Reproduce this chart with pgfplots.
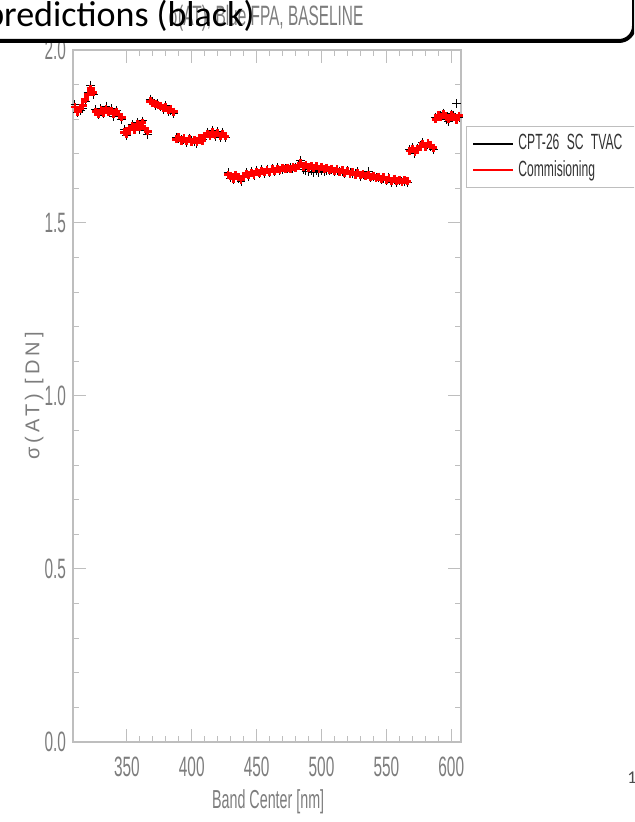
\documentclass[border=0pt]{standalone}
\usepackage{fontspec}
\setmainfont{Liberation Sans}
\newfontfamily\idl[FakeStretch=0.55]{Liberation Sans}
\newfontfamily\idlsp[LetterSpace=20]{Liberation Sans}
\newfontfamily\slide{Carlito}
\usepackage{pgfplots}
\usepackage{pgfplotstable}
\pgfplotsset{compat=1.18}
\definecolor{idlgray}{RGB}{125,125,125}
\definecolor{axgray}{RGB}{190,190,190}

\pgfplotstableread{
x red black
310 1.835 1.842
312 1.822 1.818
314 1.830 1.825
316 1.840 1.832
318 1.858 1.850
320 1.872 1.878
322 1.888 1.898
324 1.878 1.870
326 1.822 1.828
328 1.815 1.812
330 1.826 1.830
332 1.818 1.815
334 1.830 1.838
336 1.820 1.822
338 1.824 1.830
340 1.815 1.808
342 1.822 1.826
344 1.812 1.815
346 1.806 1.800
348 1.762 1.770
350 1.758 1.752
352 1.772 1.768
354 1.780 1.784
356 1.770 1.774
358 1.786 1.790
360 1.776 1.770
362 1.790 1.795
364 1.772 1.768
366 1.765 1.755
368 1.852 1.858
370 1.848 1.852
372 1.845 1.840
374 1.840 1.845
376 1.838 1.835
378 1.832 1.828
380 1.835 1.840
382 1.826 1.822
384 1.828 1.825
386 1.822 1.815
388 1.742 1.748
390 1.748 1.745
392 1.738 1.742
394 1.745 1.740
396 1.736 1.732
398 1.742 1.745
400 1.735 1.738
402 1.740 1.736
404 1.733 1.730
406 1.745 1.742
408 1.738 1.740
410 1.752 1.748
412 1.758 1.762
414 1.750 1.755
416 1.762 1.768
418 1.755 1.750
420 1.760 1.764
422 1.752 1.748
424 1.758 1.762
426 1.750 1.746
428 1.640 1.645
430 1.635 1.630
432 1.628 1.625
434 1.640 1.636
436 1.632 1.628
438 1.625 1.620
440 1.636 1.632
442 1.642 1.645
444 1.638 1.634
446 1.645 1.648
448 1.640 1.638
450 1.648 1.652
452 1.645 1.642
454 1.650 1.655
456 1.646 1.644
458 1.652 1.656
460 1.648 1.645
462 1.655 1.658
464 1.650 1.648
466 1.656 1.660
468 1.652 1.650
470 1.658 1.655
472 1.655 1.658
474 1.660 1.656
476 1.656 1.660
478 1.662 1.658
480 1.658 1.662
482 1.665 1.668
484 1.672 1.680
486 1.662 1.655
488 1.668 1.650
490 1.660 1.648
492 1.665 1.650
494 1.658 1.645
496 1.664 1.652
498 1.656 1.646
500 1.662 1.650
502 1.655 1.648
504 1.660 1.652
506 1.652 1.650
508 1.657 1.654
510 1.650 1.648
512 1.655 1.652
514 1.648 1.650
516 1.652 1.648
518 1.645 1.642
520 1.650 1.652
522 1.642 1.645
524 1.646 1.642
526 1.640 1.644
528 1.645 1.648
530 1.638 1.635
532 1.642 1.640
534 1.635 1.638
536 1.640 1.648
538 1.632 1.630
540 1.636 1.634
542 1.630 1.632
544 1.634 1.630
546 1.628 1.626
548 1.632 1.628
550 1.625 1.622
552 1.630 1.632
554 1.622 1.618
556 1.628 1.625
558 1.620 1.618
560 1.625 1.622
562 1.618 1.620
564 1.624 1.620
566 1.620 1.618
568 1.708 1.712
570 1.715 1.718
572 1.705 1.700
574 1.712 1.715
576 1.722 1.725
578 1.728 1.732
580 1.720 1.722
582 1.730 1.726
584 1.724 1.720
586 1.718 1.712
588 1.800 1.806
590 1.812 1.808
592 1.805 1.810
594 1.815 1.818
596 1.808 1.800
598 1.800 1.792
600 1.812 1.815
602 1.806 1.812
604 1.798 1.845
606 1.810 1.805
}\data

\begin{document}
\begin{tikzpicture}[x=0.5pt,y=0.5pt]
\useasboundingbox (0,0) rectangle (634,822);
\begin{scope}
\clip (0,0) rectangle (634,822);
\begin{axis}[
  at={(36.5pt,40pt)}, anchor=south west,
  scale only axis, width=194pt, height=346pt,
  xmin=308.5, xmax=607.5, ymin=0, ymax=2,
  xtick={350,400,450,500,550,600},
  xticklabels={350,400,450,500,550,600},
  ytick={0,0.5,1,1.5,2},
  yticklabels={0.0,0.5,1.0,1.5,2.0},
  minor x tick num=4, minor y tick num=4,
  tick align=inside,
  major tick length=6.5pt, minor tick length=3pt,
  every tick/.style={axgray, line width=0.5pt},
  axis line style={axgray, line width=0.6pt},
  xticklabel style={font=\fontsize{14}{14}\selectfont\idl, text=idlgray, yshift=-4pt},
  yticklabel style={font=\fontsize{14}{14}\selectfont\idl, text=idlgray},
  xlabel={Band Center [nm]},
  xlabel style={font=\fontsize{13}{13}\selectfont\idl, text=idlgray, at={(axis description cs:0.503,-0.087)}, anchor=center},
  ylabel={σ(AT) [DN]},
  ylabel style={font=\fontsize{10}{10}\selectfont\idlsp, text=idlgray, at={(axis description cs:-0.1,0.5)}, anchor=center},
  legend style={at={(axis description cs:1.013,0.890)}, anchor=north west, draw=axgray,
    font=\fontsize{11}{11}\selectfont\idl, text=black!80, row sep=0pt,
    nodes={text width=62pt}},
  legend cell align=left,
  legend image code/.code={\draw[#1] (0pt,0pt) -- (20pt,0pt);},
  clip=false,
]
\addplot[only marks, mark=+, mark size=2.2pt, black, mark options={line width=0.5pt}, forget plot] table[x=x,y=black]{\data};
\addplot[only marks, mark=+, mark size=2pt, red, mark options={line width=1.4pt}, forget plot] table[x=x,y=red]{\data};
\addlegendimage{black, line width=1pt}
\addlegendentry{CPT-26 SC TVAC}
\addlegendimage{red, line width=1pt}
\addlegendentry{Commisioning}
\end{axis}
\node[anchor=base, font=\fontsize{14}{14}\selectfont\idl, text=idlgray, inner sep=0pt] at (266,796) {σ(AT), Blue FPA, BASELINE};
\node[anchor=base east, font=\fontsize{18}{18}\selectfont\slide, inner sep=0pt] at (255,795) {predictions (black)};
\draw[line width=2pt] (-10,781) -- (619,781) arc[start angle=270, end angle=360, radius=15] -- (634,830);
\node[anchor=west, font=\fontsize{9}{9}\selectfont\slide, text=black!70, inner sep=0pt] at (627,44) {1};
\end{scope}
\end{tikzpicture}
\end{document}
